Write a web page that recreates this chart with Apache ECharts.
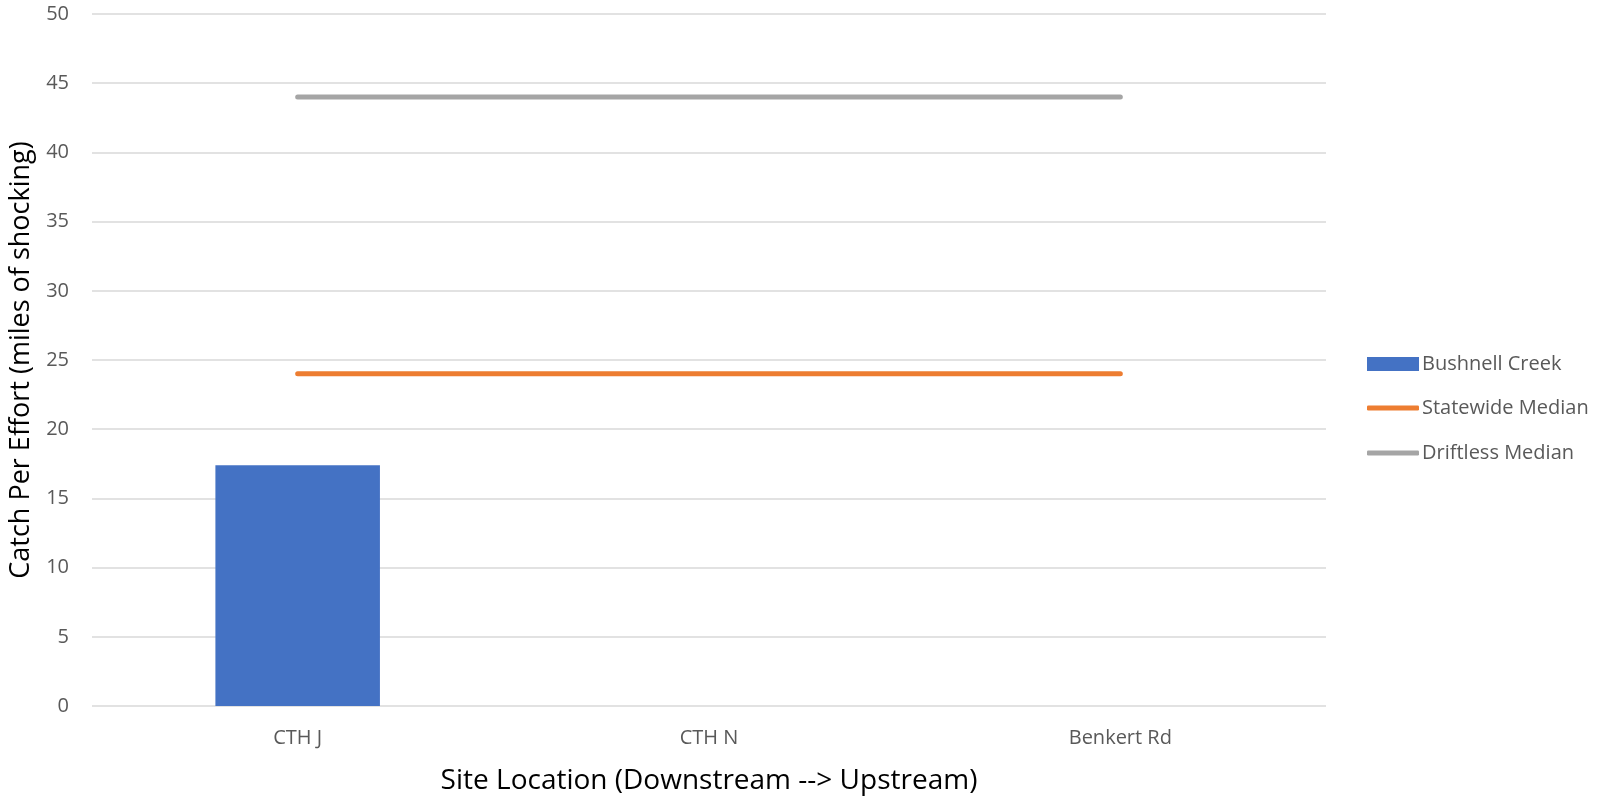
<!DOCTYPE html>
<html>
<head>
<meta charset="UTF-8">
<title>Bushnell Creek CPE</title>
<script src="https://cdn.jsdelivr.net/npm/echarts@6/dist/echarts.min.js"></script>
<style>
  html, body { margin: 0; padding: 0; background: #fff; }
  #main { width: 1600px; height: 798px; }
</style>
</head>
<body>
<div id="main"></div>
<script type="text/javascript">
  // values
  var sites = ['CTH J', 'CTH N', 'Benkert Rd'];
  var bushnell = [17.4, null, null];
  var statewide = [24, 24, 24];
  var driftless = [44, 44, 44];

  var font = '"Open Sans", Lato, sans-serif';
  var chart = echarts.init(document.getElementById('main'));

  function legendItem(name, top, w, h, icon) {
    return {
      data: [{ name: name, icon: icon }],
      left: 1367, top: top,
      padding: 0,
      itemWidth: w, itemHeight: h,
      itemGap: 6,
      textStyle: { color: '#595959', fontSize: 20, fontFamily: font, padding: [0, 0, 0, -2] }
    };
  }

  var option = {
    animation: false,
    grid: { left: 92, right: 274, top: 14, bottom: 92, outerBoundsMode: 'none' },
    legend: [
      legendItem('Bushnell Creek', 354, 52, 14, 'rect'),
      legendItem('Statewide Median', 398, 52, 5, 'roundRect'),
      legendItem('Driftless Median', 443, 52, 5, 'roundRect')
    ],
    xAxis: {
      type: 'category',
      data: sites,
      axisLine: { show: false },
      axisTick: { show: false },
      axisLabel: { color: '#595959', fontSize: 20, fontFamily: font, margin: 22 },
      name: 'Site Location (Downstream --> Upstream)',
      nameLocation: 'middle',
      nameGap: 61,
      nameTextStyle: { color: '#000', fontSize: 28, fontFamily: font }
    },
    yAxis: {
      type: 'value',
      min: 0, max: 50, interval: 5,
      axisLine: { show: false },
      axisTick: { show: false },
      axisLabel: { color: '#595959', fontSize: 20, fontFamily: font, margin: 23 },
      splitLine: { lineStyle: { color: '#D9D9D9', width: 1.5 } },
      name: 'Catch Per Effort (miles of shocking)',
      nameLocation: 'middle',
      nameGap: 56,
      nameTextStyle: { color: '#000', fontSize: 27, fontFamily: font }
    },
    series: [
      {
        name: 'Bushnell Creek',
        type: 'bar',
        data: bushnell,
        barWidth: '40%',
        itemStyle: { color: '#4472C4' }
      },
      {
        name: 'Statewide Median',
        type: 'line',
        data: statewide,
        symbol: 'none',
        itemStyle: { color: '#ED7D31' },
        lineStyle: { color: '#ED7D31', width: 5, cap: 'round' }
      },
      {
        name: 'Driftless Median',
        type: 'line',
        data: driftless,
        symbol: 'none',
        itemStyle: { color: '#A5A5A5' },
        lineStyle: { color: '#A5A5A5', width: 5, cap: 'round' }
      }
    ]
  };
  chart.setOption(option);
</script>
</body>
</html>
